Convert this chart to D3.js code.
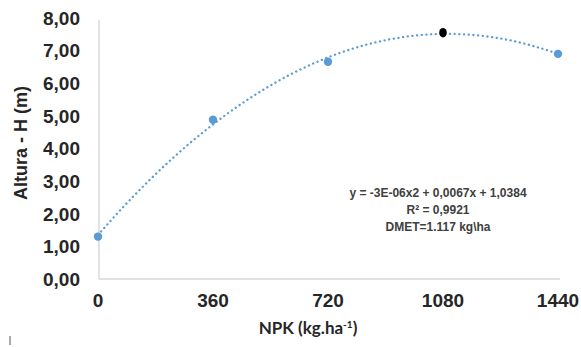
<!DOCTYPE html>
<html><head><meta charset="utf-8">
<script src="https://cdn.jsdelivr.net/npm/d3@7/dist/d3.min.js"></script>
<style>body{margin:0;background:#fff}svg{display:block}</style>
</head><body><svg id="c" width="581" height="347"></svg>
<script>
const doses = [0, 360, 720, 1080, 1440];
const heights = [1.30, 4.88, 6.66, 7.55, 6.90];
const yTicks = [0, 1, 2, 3, 4, 5, 6, 7, 8];
const highlightDose = 1080;
const eqLines = ["y = -3E-06x2 + 0,0067x + 1,0384", "R² = 0,9921", "DMET=1.117 kg\\ha"];

const svg = d3.select("#c");
const x = d3.scaleLinear().domain([0, 1440]).range([98, 558]);
const y = d3.scaleLinear().domain([0, 8]).range([279, 18]);

// axes lines
svg.append("line").attr("x1", 99).attr("x2", 99).attr("y1", 20).attr("y2", 279)
  .attr("stroke", "#d9d9d9").attr("stroke-width", 1.5);
svg.append("line").attr("x1", 99).attr("x2", 560).attr("y1", 279).attr("y2", 279)
  .attr("stroke", "#d9d9d9").attr("stroke-width", 1.5);

const fmt = v => d3.format(".2f")(v).replace(".", ",");
svg.append("g").selectAll("text").data(yTicks).join("text")
  .attr("x", 80).attr("y", d => y(d)).attr("dy", "0.36em")
  .attr("text-anchor", "end").attr("font-family", "Liberation Sans, Arial, sans-serif")
  .attr("font-weight", "bold").attr("font-size", 19).attr("fill", "#262626")
  .text(fmt);
svg.append("g").selectAll("text").data(doses).join("text")
  .attr("x", d => x(d)).attr("y", 300).attr("dy", "0.36em")
  .attr("text-anchor", "middle").attr("font-family", "Liberation Sans, Arial, sans-serif")
  .attr("font-weight", "bold").attr("font-size", 19).attr("fill", "#262626")
  .text(d => d);

// axis titles
svg.append("text").attr("transform", "translate(27,143) rotate(-90)")
  .attr("text-anchor", "middle").attr("font-family", "Liberation Sans, Arial, sans-serif")
  .attr("font-weight", "bold").attr("font-size", 18).attr("fill", "#262626")
  .text("Altura - H (m)");
const xt = svg.append("text").attr("x", 308).attr("y", 334)
  .attr("text-anchor", "middle").attr("font-family", "Lato, sans-serif")
  .attr("font-weight", "bold").attr("font-size", 17).attr("fill", "#262626");
xt.append("tspan").text("NPK (kg.ha");
xt.append("tspan").attr("font-size", 10).attr("dy", -6).text("-1");
xt.append("tspan").attr("dy", 6).text(")");

// least squares quadratic trend
function fitQuad(xs, ys) {
  let s = [0,0,0,0,0], t = [0,0,0];
  xs.forEach((xv, i) => {
    for (let k = 0; k < 5; k++) s[k] += Math.pow(xv, k);
    for (let k = 0; k < 3; k++) t[k] += ys[i] * Math.pow(xv, k);
  });
  const A = [[s[0], s[1], s[2], t[0]], [s[1], s[2], s[3], t[1]], [s[2], s[3], s[4], t[2]]];
  for (let i = 0; i < 3; i++) {
    for (let j = i + 1; j < 3; j++) {
      const f = A[j][i] / A[i][i];
      for (let k = i; k < 4; k++) A[j][k] -= f * A[i][k];
    }
  }
  const c = [0,0,0];
  for (let i = 2; i >= 0; i--) {
    let v = A[i][3];
    for (let k = i + 1; k < 3; k++) v -= A[i][k] * c[k];
    c[i] = v / A[i][i];
  }
  return c;
}
const c = fitQuad(doses, heights);
const curve = d3.range(0, 1441, 10).map(v => [v, c[0] + c[1]*v + c[2]*v*v]);
svg.append("path").datum(curve)
  .attr("d", d3.line().x(d => x(d[0])).y(d => y(d[1])))
  .attr("fill", "none").attr("stroke", "#5b9bd5").attr("stroke-width", 2.3)
  .attr("stroke-linecap", "round").attr("stroke-dasharray", "0.1 4.6");

// points
const pts = doses.map((d, i) => ({d, h: heights[i]}));
svg.append("g").selectAll("circle").data(pts.filter(p => p.d !== highlightDose)).join("circle")
  .attr("cx", p => x(p.d)).attr("cy", p => y(p.h)).attr("r", 4.2).attr("fill", "#5b9bd5");
svg.append("g").selectAll("ellipse").data(pts.filter(p => p.d === highlightDose)).join("ellipse")
  .attr("cx", p => x(p.d)).attr("cy", p => y(p.h)).attr("rx", 3.8).attr("ry", 4.8).attr("fill", "#000");

// equation
svg.append("g").selectAll("text").data(eqLines).join("text")
  .attr("x", 438).attr("y", (d, i) => 197 + i * 17)
  .attr("text-anchor", "middle").attr("font-family", "Liberation Sans, Arial, sans-serif")
  .attr("font-weight", "bold").attr("font-size", 12).attr("fill", "#404040")
  .text(d => d);

// small artifact mark
svg.append("line").attr("x1", 10).attr("x2", 10).attr("y1", 336).attr("y2", 345)
  .attr("stroke", "#555").attr("stroke-width", 1);
</script></body></html>
